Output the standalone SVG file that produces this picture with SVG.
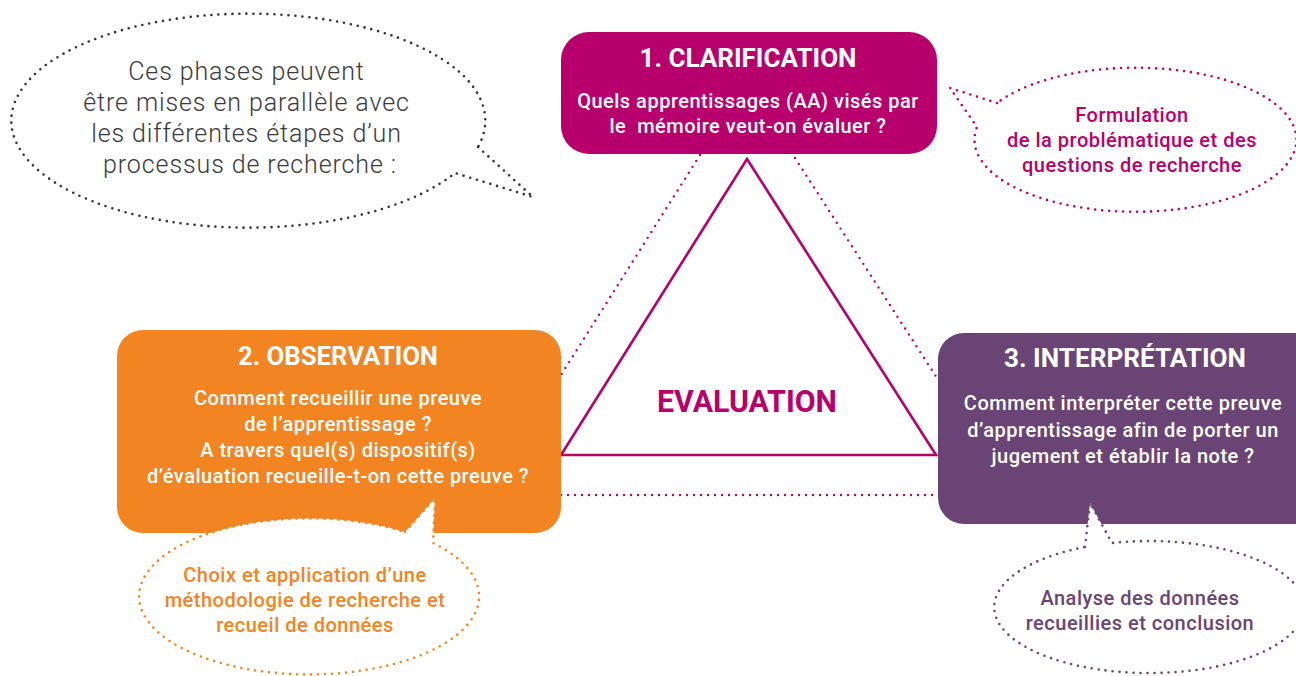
<svg xmlns="http://www.w3.org/2000/svg" width="1296" height="676" viewBox="0 0 1296 676">
<style>
.t{font-family:Roboto,"Liberation Sans",sans-serif;text-anchor:middle}
.h{font-size:25px;font-weight:bold;fill:#fff}
.b{font-size:20px;font-weight:500;letter-spacing:0.5px;fill:#fff}
.n{font-size:20px;font-weight:500;letter-spacing:0.5px}
.dot{stroke-dasharray:0 7;stroke-linecap:round;stroke-width:2.6;fill:#fff}
.tl{stroke-dasharray:0 7;stroke-linecap:round;stroke-width:2.4;stroke:#b7006b;fill:none}
</style>
<rect width="1296" height="676" fill="#fff"/>
<g id="connectors">
<line class="tl" x1="700" y1="155" x2="561" y2="375"/>
<line class="tl" x1="795" y1="158" x2="937" y2="378"/>
<line class="tl" x1="561" y1="495" x2="937" y2="495"/>
</g>
<g id="triangle">
<polygon points="747,159 561,455 936,455" fill="none" stroke="#b7006b" stroke-width="2.6" stroke-linejoin="miter"/>
<text class="t" x="747" y="412" font-size="32" font-weight="bold" fill="#b7006b" textLength="180" lengthAdjust="spacingAndGlyphs">EVALUATION</text>
</g>
<g id="note-intro">
<path class="dot" stroke="#333" d="M 478 147 L 533 197 L 455 173 A 237 107 0 1 1 478 147"/>
<text class="t" font-family="Lato" font-weight="300" font-size="25" letter-spacing="0.9" fill="#3a3a3a">
<tspan x="250" y="80">Ces phases peuvent</tspan>
<tspan x="250" y="111">être mises en parallèle avec</tspan>
<tspan x="250" y="142">les différentes étapes d’un</tspan>
<tspan x="250" y="173">processus de recherche :</tspan>
</text>
</g>
<g id="clarification">
<rect x="561" y="32" width="376" height="122" rx="28" fill="#b7006b"/>
<text class="t h" x="748" y="67" textLength="217" lengthAdjust="spacingAndGlyphs">1. CLARIFICATION</text>
<text class="t b"><tspan x="748" y="108">Quels apprentissages (AA) visés par</tspan><tspan x="748" y="133">le&#160; mémoire veut-on évaluer ?</tspan></text>
</g>
<g id="note-clarification">
<path class="dot" stroke="#b7006b" d="M 997 103 L 950 88 L 977 127 A 161 72 0 1 0 997 103"/>
<text class="t n" fill="#b7006b"><tspan x="1132" y="122">Formulation</tspan><tspan x="1132" y="147">de la problématique et des</tspan><tspan x="1132" y="172">questions de recherche</tspan></text>
</g>
<g id="observation">
<rect x="117" y="330" width="444" height="203" rx="26" fill="#f28421"/>
<text class="t h" x="338" y="365" textLength="200" lengthAdjust="spacingAndGlyphs">2. OBSERVATION</text>
<text class="t b"><tspan x="338" y="405">Comment recueillir une preuve</tspan><tspan x="338" y="431">de l’apprentissage ?</tspan><tspan x="338" y="457">A travers quel(s) dispositif(s)</tspan><tspan x="338" y="483">d’évaluation recueille-t-on cette preuve ?</tspan></text>
</g>
<g id="note-observation">
<path class="dot" stroke="#f28421" d="M 405 532 L 435 498 L 433 543 A 170 78 0 1 1 405 532"/>
<text class="t n" fill="#f28421"><tspan x="305" y="582">Choix et application d’une</tspan><tspan x="305" y="607">méthodologie de recherche et</tspan><tspan x="305" y="632">recueil de données</tspan></text>
</g>
<g id="interpretation">
<rect x="938" y="333" width="390" height="191" rx="26" fill="#6a4474"/>
<text class="t h" x="1125" y="367" textLength="242" lengthAdjust="spacingAndGlyphs">3. INTERPRÉTATION</text>
<text class="t b"><tspan x="1123" y="410">Comment interpréter cette preuve</tspan><tspan x="1123" y="437">d’apprentissage afin de porter un</tspan><tspan x="1123" y="463">jugement et établir la note ?</tspan></text>
</g>
<g id="note-interpretation">
<path class="dot" stroke="#6a4474" d="M 1085 547 L 1090 503 L 1112 543 A 155 66 0 1 1 1085 547"/>
<text class="t n" fill="#6a4474"><tspan x="1140" y="605">Analyse des données</tspan><tspan x="1140" y="630">recueillies et conclusion</tspan></text>
</g>
</svg>
